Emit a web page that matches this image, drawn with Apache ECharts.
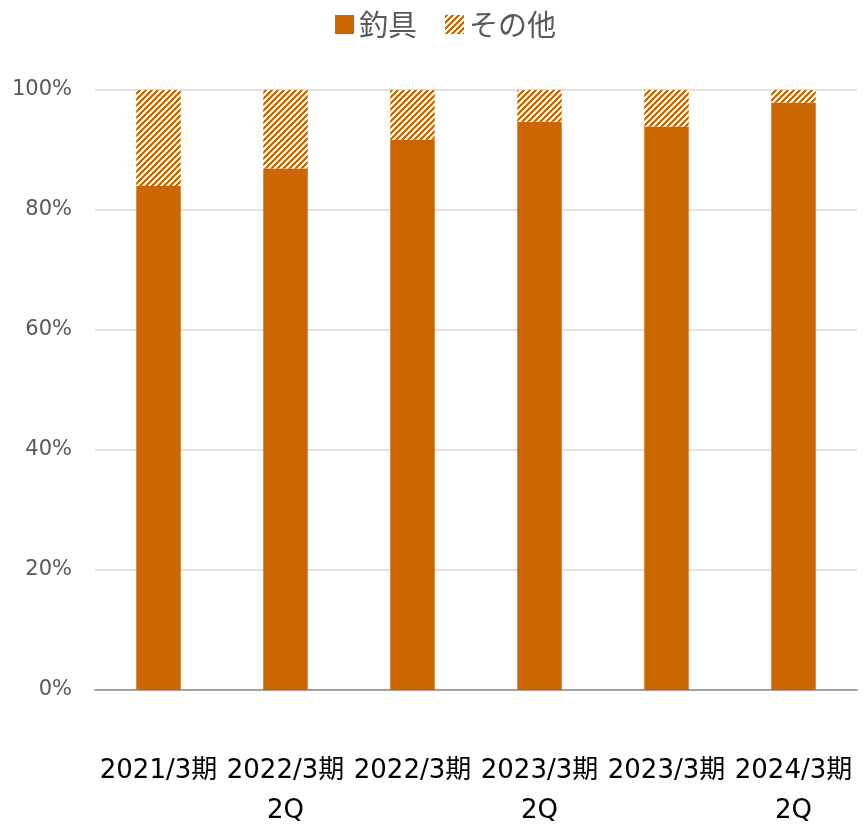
<!DOCTYPE html>
<html>
<head>
    <meta charset="UTF-8">
    <title>釣具 比率</title>
    <script src="https://cdn.jsdelivr.net/npm/echarts@6/dist/echarts.min.js"></script>
    <style>
        html, body { margin: 0; padding: 0; background: #fff; }
    </style>
</head>
<body>
<div id="main" style="width: 865px;height:830px;"></div>
<script type="text/javascript">
    // データ
    var categories = ['2021/3期', '2022/3期\n2Q', '2022/3期', '2023/3期\n2Q', '2023/3期', '2024/3期\n2Q'];
    var fishingData = [84.0, 86.9, 91.7, 94.7, 93.9, 97.9];
    var otherData = [16.0, 13.1, 8.3, 5.3, 6.1, 2.1];
    var seriesNames = ['釣具', 'その他'];

    var orange = '#CC6600';

    // 斜線パターン（その他）
    function makeStripe() {
        var n = 6;
        var c = document.createElement('canvas');
        c.width = n;
        c.height = n;
        var ctx = c.getContext('2d');
        ctx.fillStyle = '#ffffff';
        ctx.fillRect(0, 0, n, n);
        ctx.fillStyle = orange;
        for (var x = 0; x < n; x++) {
            for (var y = 0; y < n; y++) {
                if ((x + y) % n < 3) ctx.fillRect(x, y, 1, 1);
            }
        }
        return c;
    }
    var stripe = { image: makeStripe(), repeat: 'repeat' };

    var myChart = echarts.init(document.getElementById('main'));

    var option = {
        animation: false,
        textStyle: {
            fontFamily: '"DejaVu Sans", "Noto Sans CJK JP", sans-serif'
        },
        legend: {
            top: 5,
            left: 330,
            itemWidth: 19,
            itemHeight: 19,
            itemGap: 28,
            icon: 'rect',
            textStyle: {
                fontSize: 29,
                color: '#595959',
                fontFamily: '"Noto Sans CJK JP", sans-serif'
            },
            data: seriesNames
        },
        grid: {
            left: 95,
            right: 8,
            top: 90,
            bottom: 140,
            outerBoundsMode: 'none'
        },
        xAxis: {
            type: 'category',
            data: categories,
            axisTick: { show: false },
            axisLine: {
                lineStyle: { color: '#8c8c8c', width: 1.5 }
            },
            axisLabel: {
                interval: 0,
                margin: 61,
                fontSize: 26,
                lineHeight: 40,
                color: '#000'
            }
        },
        yAxis: {
            type: 'value',
            min: 0,
            max: 100,
            interval: 20,
            axisLine: { show: false },
            axisTick: { show: false },
            splitLine: {
                lineStyle: { color: '#d9d9d9', width: 1.5 }
            },
            axisLabel: {
                formatter: '{value}%',
                fontSize: 21,
                margin: 23,
                color: '#595959'
            }
        },
        series: [
            {
                name: seriesNames[0],
                type: 'bar',
                stack: 'total',
                barWidth: '35%',
                itemStyle: { color: orange },
                data: fishingData
            },
            {
                name: seriesNames[1],
                type: 'bar',
                stack: 'total',
                barWidth: '35%',
                itemStyle: { color: stripe },
                data: otherData
            }
        ]
    };

    myChart.setOption(option);
</script>
</body>
</html>
